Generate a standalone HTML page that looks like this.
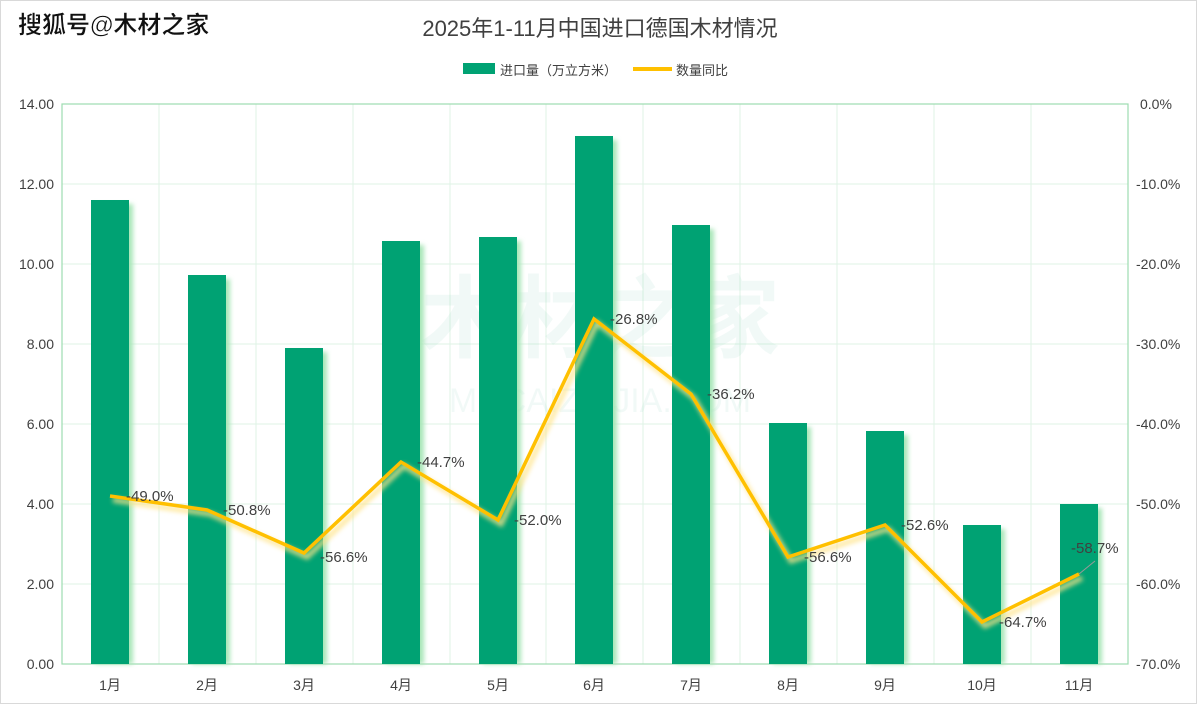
<!DOCTYPE html>
<html><head><meta charset="utf-8"><style>
body{margin:0;background:#fff;}
svg text{font-family:"Liberation Sans","Noto Sans CJK SC",sans-serif;}
</style></head><body>
<svg width="1200" height="706" viewBox="0 0 1200 706" xmlns="http://www.w3.org/2000/svg">
<defs><filter id="b" x="-50%" y="-50%" width="200%" height="200%"><feGaussianBlur stdDeviation="2.5"/></filter></defs>
<rect x="0" y="0" width="1200" height="706" fill="#fff"/>
<rect x="0.5" y="0.5" width="1196" height="703" fill="none" stroke="#d9d9d9"/>
<text x="18" y="33" font-size="24" fill="#111" font-weight="bold" stroke="#fff" stroke-width="0.5">搜狐号@木材之家</text>
<text x="600" y="36" font-size="22" fill="#404040" text-anchor="middle">2025年1-11月中国进口德国木材情况</text>
<rect x="463" y="63" width="32" height="11" fill="#00a273"/>
<text x="500" y="75" font-size="13" fill="#404040">进口量（万立方米）</text>
<line x1="633" y1="69" x2="672" y2="69" stroke="#ffc000" stroke-width="4"/>
<text x="676" y="75" font-size="13" fill="#404040">数量同比</text>
<g stroke="#dff3e6" stroke-width="1">
<line x1="62" y1="184" x2="1128" y2="184"/><line x1="62" y1="264" x2="1128" y2="264"/><line x1="62" y1="344" x2="1128" y2="344"/><line x1="62" y1="424" x2="1128" y2="424"/><line x1="62" y1="504" x2="1128" y2="504"/><line x1="62" y1="584" x2="1128" y2="584"/>
<line x1="159" y1="104" x2="159" y2="664"/><line x1="256" y1="104" x2="256" y2="664"/><line x1="353" y1="104" x2="353" y2="664"/><line x1="450" y1="104" x2="450" y2="664"/><line x1="546" y1="104" x2="546" y2="664"/><line x1="643" y1="104" x2="643" y2="664"/><line x1="740" y1="104" x2="740" y2="664"/><line x1="837" y1="104" x2="837" y2="664"/><line x1="934" y1="104" x2="934" y2="664"/><line x1="1031" y1="104" x2="1031" y2="664"/>
</g>
<rect x="62" y="104" width="1066" height="560" fill="none" stroke="#9ddcb0" stroke-width="1.2"/>
<text x="600" y="350" font-size="90" fill="#00a273" opacity="0.05" text-anchor="middle" font-weight="bold">木材之家</text>
<text x="600" y="412" font-size="34" fill="#00a273" opacity="0.05" text-anchor="middle">MUCAIZHIJIA.COM</text>
<g fill="#a8e6b8" filter="url(#b)">
<rect x="95" y="204" width="38" height="460"/><rect x="192" y="279" width="38" height="385"/><rect x="289" y="352" width="38" height="312"/><rect x="386" y="245" width="38" height="419"/><rect x="483" y="241" width="38" height="423"/><rect x="579" y="140" width="38" height="524"/><rect x="676" y="229" width="38" height="435"/><rect x="773" y="427" width="38" height="237"/><rect x="870" y="435" width="38" height="229"/><rect x="967" y="529" width="38" height="135"/><rect x="1064" y="508" width="38" height="156"/>
</g>
<g fill="#00a273">
<rect x="91" y="200" width="38" height="464"/><rect x="188" y="275" width="38" height="389"/><rect x="285" y="348" width="38" height="316"/><rect x="382" y="241" width="38" height="423"/><rect x="479" y="237" width="38" height="427"/><rect x="575" y="136" width="38" height="528"/><rect x="672" y="225" width="38" height="439"/><rect x="769" y="423" width="38" height="241"/><rect x="866" y="431" width="38" height="233"/><rect x="963" y="525" width="38" height="139"/><rect x="1060" y="504" width="38" height="160"/>
</g>
<polyline points="113,500 210,514 307,557 404,466 501,524 597,323 694,398 791,561 888,529 985,626 1082,578" fill="none" stroke="#ffe48a" stroke-width="5" filter="url(#b)" opacity="0.8"/>
<polyline points="110,496 207,510 304,553 401,462 498,520 594,319 691,394 788,557 885,525 982,622 1079,574" fill="none" stroke="#ffc000" stroke-width="3.5" stroke-linejoin="miter"/>
<line x1="1079" y1="574" x2="1095" y2="561" stroke="#999" stroke-width="1"/>
<g font-size="15" fill="#404040">
<text x="126" y="501">-49.0%</text><text x="223" y="515">-50.8%</text><text x="320" y="562">-56.6%</text><text x="417" y="467">-44.7%</text><text x="514" y="525">-52.0%</text><text x="610" y="324">-26.8%</text><text x="707" y="399">-36.2%</text><text x="804" y="562">-56.6%</text><text x="901" y="530">-52.6%</text><text x="999" y="627">-64.7%</text><text x="1071" y="553">-58.7%</text>
</g>
<g font-size="14" fill="#404040" text-anchor="end">
<text x="54" y="109">14.00</text><text x="54" y="189">12.00</text><text x="54" y="269">10.00</text><text x="54" y="349">8.00</text><text x="54" y="429">6.00</text><text x="54" y="509">4.00</text><text x="54" y="589">2.00</text><text x="54" y="669">0.00</text>
</g>
<g font-size="14" fill="#404040">
<text x="1140" y="109">0.0%</text><text x="1136" y="189">-10.0%</text><text x="1136" y="269">-20.0%</text><text x="1136" y="349">-30.0%</text><text x="1136" y="429">-40.0%</text><text x="1136" y="509">-50.0%</text><text x="1136" y="589">-60.0%</text><text x="1136" y="669">-70.0%</text>
</g>
<g font-size="14" fill="#404040" text-anchor="middle">
<text x="110" y="690">1月</text><text x="207" y="690">2月</text><text x="304" y="690">3月</text><text x="401" y="690">4月</text><text x="498" y="690">5月</text><text x="594" y="690">6月</text><text x="691" y="690">7月</text><text x="788" y="690">8月</text><text x="885" y="690">9月</text><text x="982" y="690">10月</text><text x="1079" y="690">11月</text>
</g>
</svg>
</body></html>
